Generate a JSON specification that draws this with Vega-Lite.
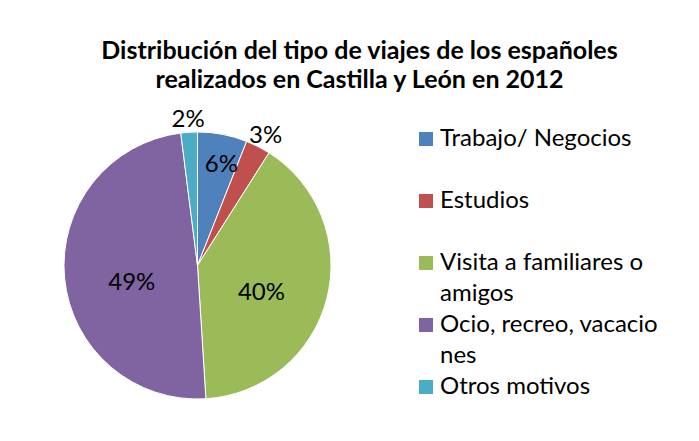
{
  "$schema": "https://vega.github.io/schema/vega-lite/v6.json",
  "autosize": "none",
  "width": 267,
  "height": 267,
  "padding": {"left": 64, "top": 132, "right": 368, "bottom": 42},
  "background": "white",
  "title": {
    "text": ["Distribución del tipo de viajes de los españoles", "realizados en Castilla y León en 2012"],
    "font": "Lato",
    "fontSize": 25,
    "fontWeight": "bold",
    "color": "#000000",
    "lineHeight": 29,
    "anchor": "middle",
    "frame": "group",
    "dx": 162,
    "offset": 15
  },
  "config": {
    "view": {"stroke": null},
    "style": {"guide-label": {"lineHeight": 31}}
  },
  "data": {
    "values": [
      {"motivo": "Trabajo/ Negocios", "pct": 0.06, "orden": 1},
      {"motivo": "Estudios", "pct": 0.03, "orden": 2},
      {"motivo": "Visita a familiares o amigos", "pct": 0.40, "orden": 3},
      {"motivo": "Ocio, recreo, vacaciones", "pct": 0.49, "orden": 4},
      {"motivo": "Otros motivos", "pct": 0.02, "orden": 5}
    ]
  },
  "encoding": {
    "theta": {"field": "pct", "type": "quantitative", "stack": true},
    "order": {"field": "orden", "type": "quantitative"}
  },
  "layer": [
    {
      "mark": {"type": "arc", "stroke": "white", "strokeWidth": 1},
      "encoding": {
        "color": {
          "field": "motivo",
          "type": "nominal",
          "sort": null,
          "scale": {
            "domain": ["Trabajo/ Negocios", "Estudios", "Visita a familiares o amigos", "Ocio, recreo, vacaciones", "Otros motivos"],
            "range": ["#4F81BD", "#C0504D", "#9BBB59", "#8064A2", "#4BACC6"]
          },
          "legend": {
            "title": null,
            "orient": "none",
            "legendX": 350,
            "legendY": -5,
            "symbolType": "square",
            "symbolSize": 196,
            "symbolStrokeWidth": 0,
            "labelFont": "Lato",
            "labelFontSize": 24,
            "labelColor": "#000000",
            "labelLimit": 400,
            "labelOffset": 2,
            "rowPadding": 7,
            "labelExpr": "datum.label == 'Visita a familiares o amigos' ? ['Visita a familiares o', 'amigos'] : datum.label == 'Ocio, recreo, vacaciones' ? ['Ocio, recreo, vacacio', 'nes'] : [datum.label, '']"
          }
        }
      }
    },
    {
      "mark": {"type": "text", "font": "Lato", "fontSize": 24, "color": "#000000", "dy": 4},
      "encoding": {
        "text": {"field": "pct", "type": "quantitative", "format": ".0%"},
        "radius": {"value": 150},
        "opacity": {"condition": {"test": "datum.pct < 0.05", "value": 1}, "value": 0}
      }
    },
    {
      "mark": {"type": "text", "font": "Lato", "fontSize": 24, "color": "#000000", "dx": 4, "dy": 4},
      "encoding": {
        "text": {"field": "pct", "type": "quantitative", "format": ".0%"},
        "radius": {"value": 106},
        "opacity": {"condition": {"test": "datum.pct >= 0.05 && datum.pct < 0.1", "value": 1}, "value": 0}
      }
    },
    {
      "mark": {"type": "text", "font": "Lato", "fontSize": 24, "color": "#000000", "dy": 11},
      "encoding": {
        "text": {"field": "pct", "type": "quantitative", "format": ".0%"},
        "radius": {"value": 66},
        "opacity": {"condition": {"test": "datum.pct >= 0.1", "value": 1}, "value": 0}
      }
    }
  ]
}
